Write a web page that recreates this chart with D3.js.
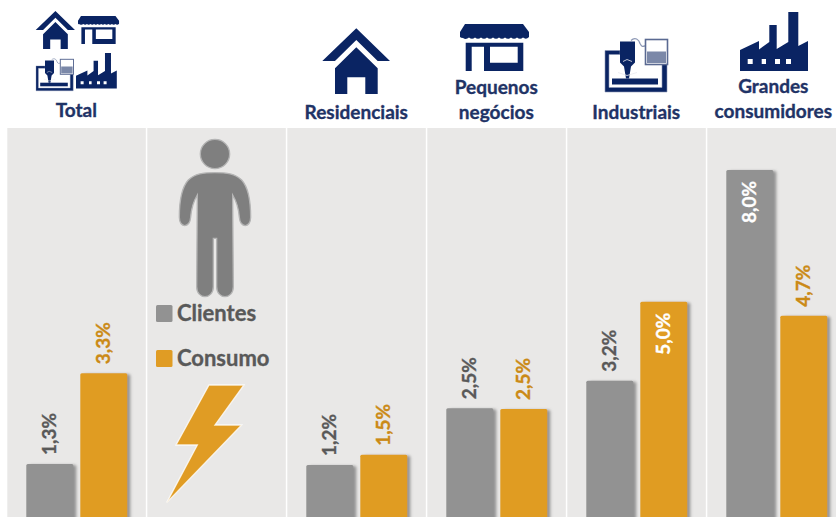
<!DOCTYPE html>
<html>
<head>
<meta charset="utf-8">
<script src="https://cdn.jsdelivr.net/npm/d3@7"></script>
<style>
  html, body { margin: 0; padding: 0; background: #fff; }
  svg { display: block; }
  text { font-family: Lato, "Open Sans", sans-serif; font-weight: 700; stroke-width: 0.35px; }
</style>
</head>
<body>
<div id="chart"></div>
<script>
//Values
let panels = ["Total", "legenda", "Residenciais", "Pequenos\nnegócios", "Industriais", "Grandes\nconsumidores"];
let barPanels = ["Total", "Residenciais", "Pequenos\nnegócios", "Industriais", "Grandes\nconsumidores"];
let clientes = [1.26, 1.24, 2.54, 3.17, 8.0];
let consumo = [3.34, 1.47, 2.52, 4.98, 4.66];
let seriesNames = ["Clientes", "Consumo"];

let width = 836, height = 517;
let navy = "#0a2463", titleColor = "#1f3366", gray = "#929292", orange = "#e09c24", dark = "#595959", darkOrange = "#cb8a16";

let svg = d3.select("#chart").append("svg")
  .attr("width", width)
  .attr("height", height);

//Shadow on the right of the bars
let shadow = svg.append("defs").append("filter")
  .attr("id", "barShadow")
  .attr("x", "-10%").attr("y", "-5%").attr("width", "130%").attr("height", "110%");
shadow.append("feDropShadow")
  .attr("dx", 3).attr("dy", 1).attr("stdDeviation", 1.5)
  .attr("flood-color", "#777").attr("flood-opacity", 0.75);

//Scales
let x = d3.scaleBand().domain(panels).range([7.3, 847.3]);
let y = d3.scaleLinear().domain([0, 8]).range([519, 170]);
let inner = d3.scaleOrdinal().domain(seriesNames).range([19, 73]);
let barWidth = 47;

//Grey panels
svg.append("g")
  .selectAll("rect")
  .data(panels)
  .enter().append("rect")
  .attr("x", d => x(d))
  .attr("y", 128)
  .attr("width", x.bandwidth() - 1.5)
  .attr("height", height - 128)
  .attr("fill", "#e9e8e7");

//Headers
let headers = svg.append("g")
  .selectAll("text")
  .data(panels.filter(d => d !== "legenda"))
  .enter().append("text")
  .attr("text-anchor", "middle")
  .attr("fill", titleColor)
  .attr("stroke", titleColor)
  .attr("font-size", 19);
headers.each(function (d) {
  let lines = d.split("\n");
  let last = d === "Total" ? 117 : (d.startsWith("Grandes") ? 118 : 119);
  let cx = x(d) + x.bandwidth() / 2 - (d.startsWith("Grandes") ? 4 : 1);
  lines.forEach((line, i) => {
    d3.select(this).append("tspan")
      .attr("x", cx)
      .attr("y", last - (lines.length - 1 - i) * 25)
      .text(line);
  });
});

//Bars
let rows = [];
barPanels.forEach((p, i) => {
  rows.push({panel: p, serie: "Clientes", value: clientes[i]});
  rows.push({panel: p, serie: "Consumo", value: consumo[i]});
});

svg.append("g")
  .selectAll("rect")
  .data(rows)
  .enter().append("rect")
  .attr("x", d => x(d.panel) + inner(d.serie))
  .attr("y", d => y(d.value))
  .attr("width", barWidth)
  .attr("height", d => y(0) - y(d.value))
  .attr("rx", 1.5)
  .attr("fill", d => d.serie === "Clientes" ? gray : orange)
  .attr("filter", "url(#barShadow)");

//Bar labels, inside the bar when the value is high
let fmt = d => d3.format(".1f")(d).replace(".", ",") + "%";
let labelColor = d => d.value > 4.8 ? "#fff" : (d.serie === "Clientes" ? dark : darkOrange);
svg.append("g")
  .selectAll("text")
  .data(rows)
  .enter().append("text")
  .attr("transform", d => {
    let inside = d.value > 4.8;
    let ly = inside ? y(d.value) + 53 : y(d.value) - 9;
    return "translate(" + (x(d.panel) + inner(d.serie) + barWidth / 2 + 6.5) + "," + ly + ") rotate(-90)";
  })
  .attr("font-size", 19)
  .attr("fill", labelColor)
  .attr("stroke", labelColor)
  .text(d => fmt(d.value));

//Legend
let legendY = d3.scaleOrdinal().domain(seriesNames).range([305, 350]);
let legend = svg.append("g")
  .selectAll("g")
  .data(seriesNames)
  .enter().append("g")
  .attr("transform", d => "translate(156," + legendY(d) + ")");
legend.append("rect")
  .attr("width", 16.5).attr("height", 17).attr("rx", 1.5)
  .attr("fill", (d, i) => i === 0 ? gray : orange);
legend.append("text")
  .attr("x", 21).attr("y", 16)
  .attr("font-size", 22)
  .attr("fill", dark)
  .attr("stroke", dark)
  .text(d => d);

//Person and lightning bolt of the legend panel
let legendIcons = svg.append("g").attr("transform", "translate(140,130) scale(0.3333)");
legendIcons.append("circle")
  .attr("cx", 225).attr("cy", 72).attr("r", 44)
  .attr("fill", "#7f7f7f").attr("stroke", "#b5b5b5").attr("stroke-width", 4);
legendIcons.append("path")
  .attr("d", "M225 128C190 128 165 130 145 150C125 172 118 210 118 262C118 295 150 295 152 262C154 235 160 215 172 195L170 470C170 510 220 510 220 470L220 325L230 325L230 470C230 510 280 510 280 470L278 195C290 215 296 235 298 262C300 295 332 295 332 262C332 210 325 172 305 150C285 130 260 128 225 128Z")
  .attr("fill", "#7f7f7f").attr("stroke", "#b5b5b5").attr("stroke-width", 4);
legendIcons.append("path")
  .attr("d", "M207 765L312 765L225 885L305 885L80 1118L172 945L108 945Z")
  .attr("fill", orange).attr("stroke", "#fff").attr("stroke-width", 4).attr("stroke-opacity", 0.8);

//Category icons, all drawn at the size of the big ones
function house(g) {
  g.append("path").attr("d", "M34 0L67.7 32.7L55.4 32.7L34 11.7L12.7 32.7L0 32.7Z").attr("fill", navy);
  g.append("path").attr("d", "M34 19L55.4 40V65.7H43V49H25V65.7H12.7V40Z").attr("fill", navy);
}
function shop(g) {
  g.append("path")
    .attr("d", "M5 0H63L69 8V13Q66 16 63 13.5Q60 16 57 13.5Q54 16 51 13.5Q48 16 45 13.5Q42 16 39 13.5Q36 16 33 13.5Q30 16 27 13.5Q24 16 21 13.5Q18 16 15 13.5Q12 16 9 13.5Q6 16 3 14Q1 14 0 13V8Z")
    .attr("fill", navy);
  g.append("path")
    .attr("d", "M5.7 18.7H63.3V47H24V22.7H11.7V47H5.7ZM30 22.7V38.7H57.7V22.7Z")
    .attr("fill", navy).attr("fill-rule", "evenodd");
}
function factory(g) {
  g.append("path")
    .attr("d", "M0 59V38L19 29V37.5L29.3 30V13H36.7V37L48.3 30V0H58.3V34L68 29V59ZM7.7 47V52H12.7V47ZM21.7 47V52H26V47ZM35 47V52H40V47ZM46 47V52H51V47Z")
    .attr("fill", navy).attr("fill-rule", "evenodd");
}
function machine(g) {
  //frame and table
  g.append("path")
    .attr("d", "M0 14H15V18H4V51H57V27H62V55.5H0Z")
    .attr("fill", navy).attr("stroke", "#8d98b5").attr("stroke-width", 0.6);
  g.append("rect").attr("x", 7).attr("y", 42).attr("width", 46).attr("height", 6).attr("fill", navy);
  //head and nozzle
  g.append("path")
    .attr("d", "M15 5H30V26L26 30L24 42H21L19 30L15 26Z")
    .attr("fill", navy);
  g.append("path")
    .attr("d", "M18 25L22 23L27 25M13 36L22 39L32 36")
    .attr("fill", "none").attr("stroke", "#e9e9ef").attr("stroke-width", 0.8);
  //cable and control panel
  g.append("path")
    .attr("d", "M26 4C30 0 34 3 35 7C37 11 38 10 41 9")
    .attr("fill", "none").attr("stroke", "#8d98b5").attr("stroke-width", 1.3);
  g.append("rect")
    .attr("x", 40.5).attr("y", 3).attr("width", 22).attr("height", 25)
    .attr("fill", "#fff").attr("stroke", "#5a6a92").attr("stroke-width", 1.6);
  g.append("rect")
    .attr("x", 42).attr("y", 15).attr("width", 19).attr("height", 11.5)
    .attr("fill", "#7b88a8");
}

//icon, left, top, scale
let iconPlaces = [
  [house, 322.3, 28.3, 1], [shop, 460, 24, 1], [machine, 605, 36.5, 1], [factory, 740, 12, 1],
  [house, 35.7, 11, 0.58], [shop, 78, 16, 0.595], [machine, 36, 57.5, 0.6], [factory, 76, 53, 0.6]
];
iconPlaces.forEach(p => {
  let g = svg.append("g").attr("transform", "translate(" + p[1] + "," + p[2] + ") scale(" + p[3] + ")");
  p[0](g);
});
</script>
</body>
</html>
